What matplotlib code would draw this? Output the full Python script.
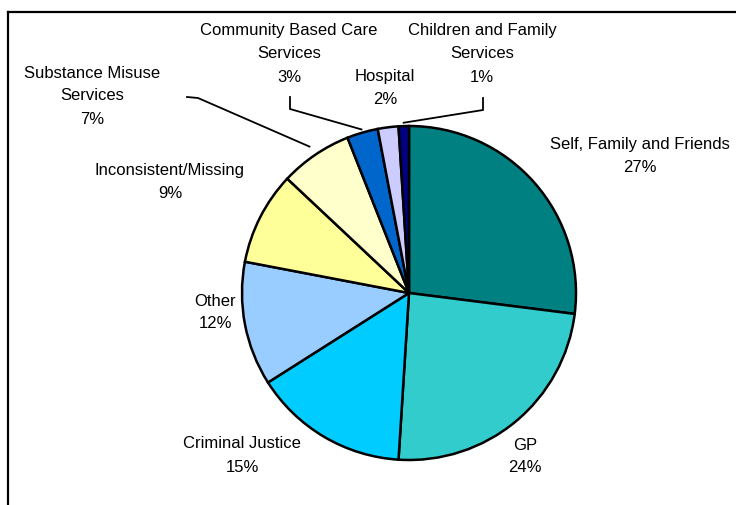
import numpy as np
import matplotlib
matplotlib.use('Agg')
import matplotlib.pyplot as plt
from matplotlib.lines import Line2D

# referral sources, clockwise from 12 o'clock
labels = ['Self, Family and Friends', 'GP', 'Criminal Justice', 'Other',
          'Inconsistent/Missing', 'Substance Misuse\nServices',
          'Community Based Care\nServices', 'Hospital',
          'Children and Family\nServices']
shares = [27, 24, 15, 12, 9, 7, 3, 2, 1]
colors = ['#008080', '#33CCCC', '#00CCFF', '#99CCFF', '#FFFF99',
          '#FFFFCC', '#0066CC', '#CCCCFF', '#000080']

W, H = 736, 505
fig = plt.figure(figsize=(W / 100, H / 100), dpi=100)
ax = fig.add_axes([0, 0, 1, 1])

cx, cy, r = 409, H - 293, 167

ax.pie(shares, colors=colors, startangle=90, counterclock=False,
       center=(cx, cy), radius=r, frame=True,
       wedgeprops=dict(edgecolor='black', linewidth=1.8))
ax.set_xlim(0, W)
ax.set_ylim(0, H)
ax.set_axis_off()

# x centre and first-line y of each label, pixels from the top-left
label_pos = [(640, 145), (525, 445), (242, 444), (215, 301), (170, 170),
             (92, 73), (289, 31), (385, 77), (482, 31)]
line_step = 23

for name, v, (px, py) in zip(labels, shares, label_pos):
    rows = name.split('\n') + [f'{v}%']
    for k, row in enumerate(rows):
        ax.text(px, H - (py + k * line_step), row, ha='center', va='center',
                fontsize=12, family='Liberation Sans')

# leader lines for the thin slices at the top
edges = np.cumsum([0] + shares)
mid_angle = {i: np.deg2rad(90 - 3.6 * (edges[i] + edges[i + 1]) / 2) for i in range(len(shares))}


def wedge_point(i, k=1.02):
    a = mid_angle[i]
    return cx + k * r * np.cos(a), cy + k * r * np.sin(a)


leaders = {
    5: [(187, 97), (198, 98)],
    6: [(290, 97), (290, 109)],
    8: [(483, 98), (483, 110)],
}
for i, pts in leaders.items():
    xs = [p[0] for p in pts]
    ys = [H - p[1] for p in pts]
    ex, ey = wedge_point(i, 1.06 if i == 5 else 1.02)
    ax.plot(xs + [ex], ys + [ey], color='black', linewidth=1.3,
            solid_joinstyle='miter')

# chart area border (left and top edges visible)
fig.add_artist(Line2D([8 / W, 8 / W], [0, 1 - 12 / H], color='black',
                      linewidth=1.6, transform=fig.transFigure))
fig.add_artist(Line2D([8 / W, 1], [1 - 12 / H, 1 - 12 / H], color='black',
                      linewidth=1.6, transform=fig.transFigure))

fig.savefig('out.png', dpi=100, facecolor='white')
